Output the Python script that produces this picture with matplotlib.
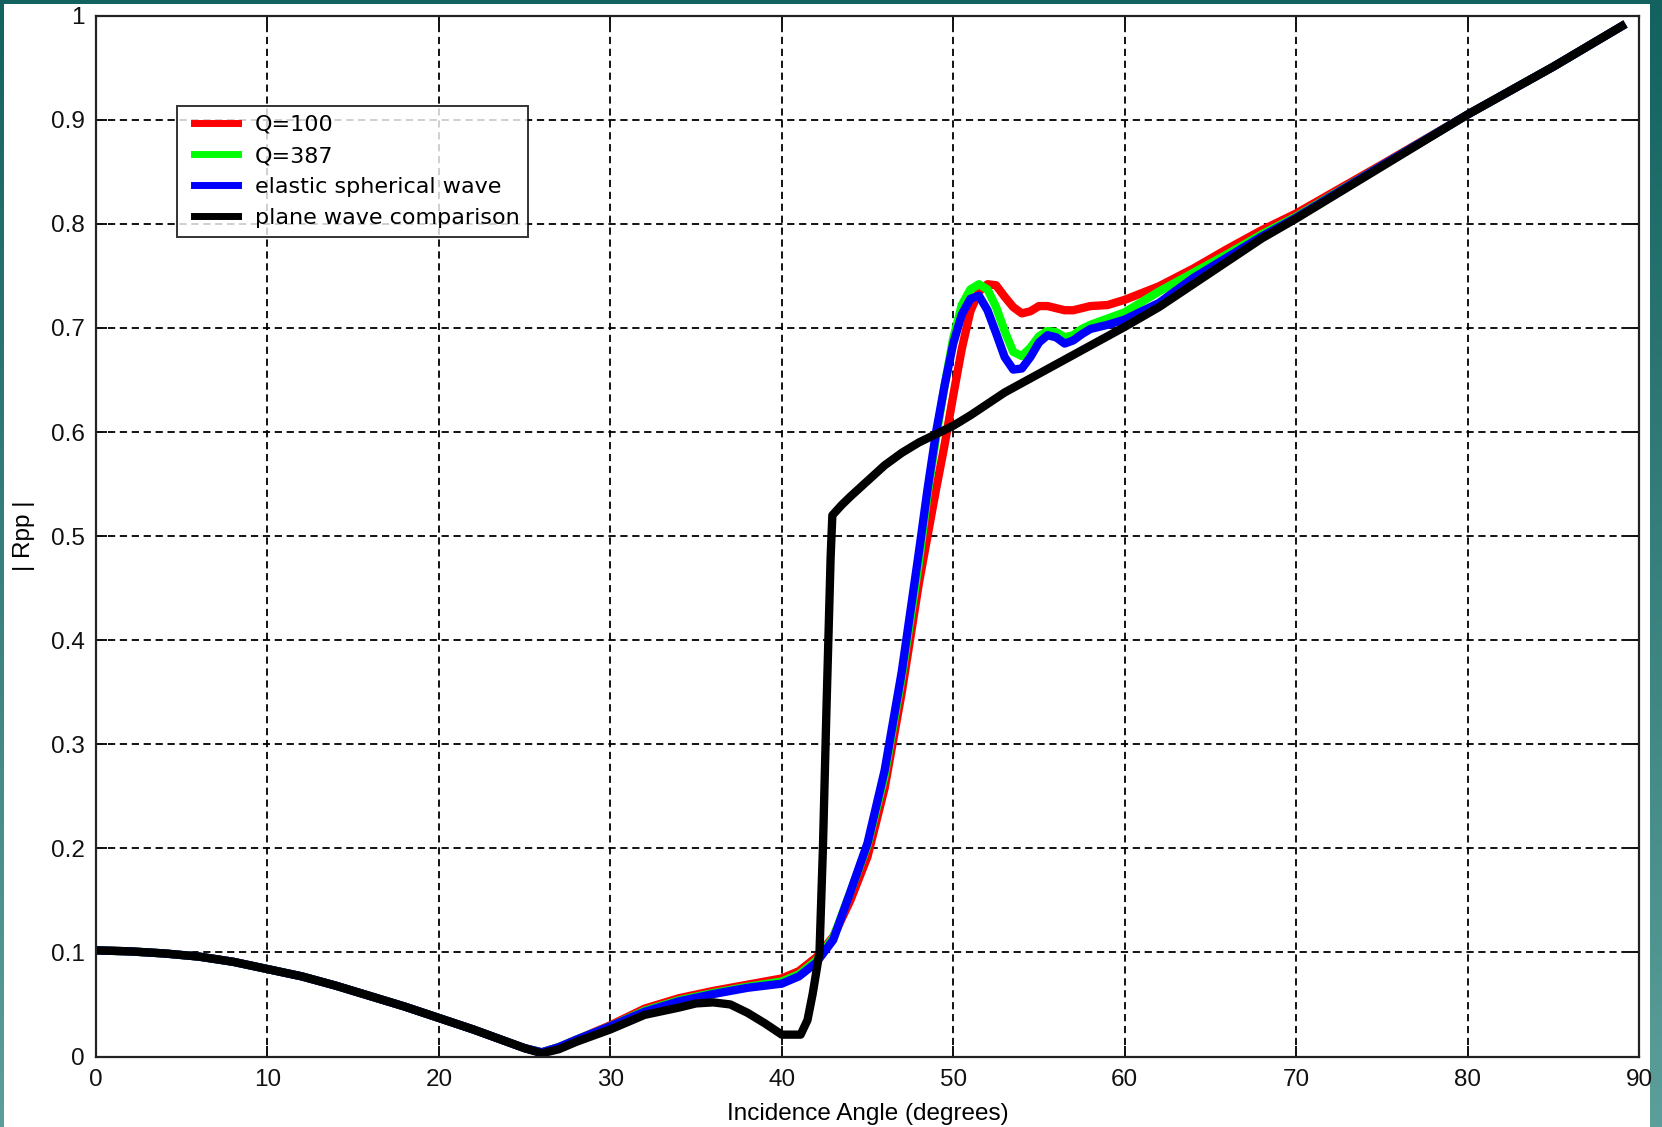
import numpy as np
import matplotlib.pyplot as plt
from matplotlib.colors import LinearSegmentedColormap
from matplotlib.patches import Rectangle
from matplotlib.lines import Line2D
from matplotlib.legend_handler import HandlerLine2D

plt.rcParams['font.family'] = ['Liberation Sans', 'DejaVu Sans']

# spherical wave curves share one angle grid
ang = [0, 2, 4, 6, 8, 10, 12, 14, 16, 18, 20, 22, 24, 25, 26, 27, 28, 30, 32, 34, 36, 38,
       40, 41, 42, 43, 44, 45, 46, 47, 48, 48.5, 49, 49.5, 50, 50.5, 51, 51.5, 52, 52.5,
       53, 53.5, 54, 54.5, 55, 55.5, 56, 56.5, 57, 57.5, 58, 59, 60, 62, 64, 66, 68, 70,
       75, 80, 85, 89]

low = [.102, .101, .099, .096, .091, .084, .077, .068, .058, .048, .037, .026, .014, .008,
       .004, .009, .016]

q100 = low + [.030, .046, .056, .063, .069, .075, .082, .095, .115, .150, .192, .258, .350,
              .455, .500, .545, .588, .635, .680, .716, .735, .742, .741, .730, .720, .714,
              .716, .721, .721, .719, .717, .717, .719, .721, .722, .727, .740, .757, .776,
              .794, .810, .857, .905, .951, .990]

q387 = low + [.029, .044, .054, .061, .067, .072, .079, .092, .114, .158, .203, .270, .365,
              .475, .540, .595, .645, .690, .722, .737, .742, .737, .720, .697, .677, .673,
              .681, .692, .697, .696, .691, .693, .699, .703, .709, .715, .735, .753, .771,
              .790, .807, .856, .905, .951, .990]

elastic = low + [.029, .043, .053, .060, .066, .070, .077, .090, .112, .158, .205, .275, .370,
                 .485, .545, .600, .645, .685, .713, .728, .731, .717, .695, .672, .660, .661,
                 .672, .686, .693, .691, .685, .688, .694, .699, .703, .708, .724, .748, .768,
                 .788, .806, .856, .905, .951, .990]

plane_ang = [0, 2, 4, 6, 8, 10, 12, 14, 16, 18, 20, 22, 24, 25, 26, 27, 28, 30, 32, 34, 35,
             36, 37, 38, 39, 40, 41.1, 41.5, 41.8, 42.2, 42.4, 42.6, 42.85, 42.95, 43.5, 44,
             45, 46, 47, 48, 49, 50, 51, 52, 53, 54, 55, 56, 57, 58, 60, 62, 64, 66, 68, 70,
             75, 80, 85, 89]
plane = [.102, .101, .099, .096, .091, .084, .077, .068, .058, .048, .037, .026, .014, .008,
         .003, .007, .014, .026, .040, .047, .051, .052, .050, .042, .032, .021, .021, .035,
         .060, .100, .200, .330, .480, .520, .530, .538, .553, .568, .580, .590, .598, .606,
         .616, .627, .638, .647, .656, .665, .674, .683, .701, .720, .742, .764, .786, .805,
         .855, .905, .951, .990]

labels = ['Q=100', 'Q=387', 'elastic spherical wave', 'plane wave comparison']
colors = ['#ff0000', '#00ff00', '#0000ff', '#000000']

W, H = 1662, 1127
fig = plt.figure(figsize=(W / 100, H / 100), dpi=100)

# teal frame behind everything
bg = fig.add_axes([0, 0, 1, 1], zorder=-10)
cmap = LinearSegmentedColormap.from_list('teal', ['#136260', '#5c9e9a'])
bg.imshow(np.linspace(0, 1, 256).reshape(-1, 1), aspect='auto', cmap=cmap,
          extent=[0, 1, 0, 1], origin='upper')
bg.add_patch(Rectangle((4 / W, 0), (1650 - 4) / W, 1 - 4 / H,
                       facecolor='white', edgecolor='none'))
bg.set_xlim(0, 1)
bg.set_ylim(0, 1)
bg.axis('off')

ax = fig.add_axes([96 / W, 1 - 1056.5 / H, (1639 - 96) / W, (1056.5 - 15.7) / H])

lw = 6
for yy, lab, c in zip([q100, q387, elastic], labels[:3], colors[:3]):
    ax.plot(ang, yy, color=c, lw=lw, label=lab, solid_joinstyle='round')
ax.plot(plane_ang, plane, color=colors[3], lw=lw, label=labels[3], solid_joinstyle='round')

ax.set_xlim(0, 90)
ax.set_ylim(0, 1)
ax.set_xticks(range(0, 91, 10))
ax.set_yticks(np.round(np.arange(0, 1.01, 0.1), 1))
ax.set_yticklabels(['0', '0.1', '0.2', '0.3', '0.4', '0.5', '0.6', '0.7', '0.8', '0.9', '1'])
ax.grid(True, color='black', ls=(0, (4, 2.6)), lw=1.3)
ax.tick_params(direction='in', length=8, width=1.4, labelsize=17.5, top=True, right=True,
               colors='#111111')
ax.tick_params(axis='y', pad=8)
ax.tick_params(axis='x', pad=9)
for s in ax.spines.values():
    s.set_linewidth(1.6)
    s.set_color('#222222')

ax.set_xlabel('Incidence Angle (degrees)', fontsize=17.5)
ax.set_ylabel('| Rpp |', fontsize=17.5)
ax.xaxis.set_label_coords(0.5, -0.045)
ax.yaxis.set_label_coords(-0.0395, 0.5)

leg = ax.legend(loc='upper left', bbox_to_anchor=((177 - 96) / 1543, 1 - (106 - 15.7) / 1040.8),
                borderaxespad=0, prop={'family': 'DejaVu Sans', 'size': 16}, frameon=True,
                fancybox=False, handlelength=2.35, handletextpad=0.75, labelspacing=0.5,
                borderpad=0.4, handler_map={Line2D: HandlerLine2D(xpad=0.38)})
leg.get_frame().set_edgecolor('black')
leg.get_frame().set_linewidth(1.4)
for h in leg.get_lines():
    h.set_linewidth(5)

fig.savefig('out.png', dpi=100)
